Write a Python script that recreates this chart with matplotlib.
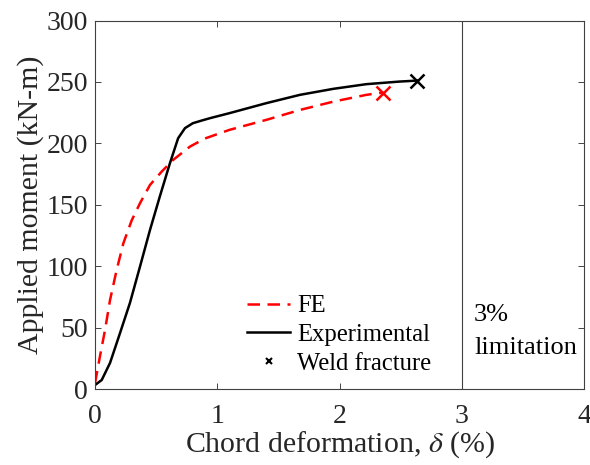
import numpy as np
import matplotlib
matplotlib.use('Agg')
import matplotlib.pyplot as plt
from matplotlib.lines import Line2D

plt.rcParams['font.family'] = ['Liberation Serif', 'DejaVu Serif']
plt.rcParams['mathtext.fontset'] = 'stix'

# FE model curve
fe_x = [0.0, 0.04, 0.082, 0.123, 0.177, 0.232, 0.30, 0.368, 0.45, 0.545, 0.64,
        0.777, 0.90, 1.10, 1.40, 1.676, 1.95, 2.22, 2.357]
fe_y = [4.7, 26.4, 48.1, 72.5, 96.9, 118.7, 137.3, 151.3, 166.2, 177.0, 186.6,
        197.4, 204.0, 211.0, 219.1, 227.2, 234.0, 239.5, 241.4]

# Experimental curve
exp_x = [0.0, 0.055, 0.123, 0.204, 0.286, 0.368, 0.45, 0.53, 0.613, 0.68, 0.736,
         0.80, 0.87, 0.94, 1.10, 1.40, 1.676, 1.95, 2.22, 2.49, 2.635]
exp_y = [3.3, 7.4, 21.3, 45.4, 70.2, 99.7, 129.6, 156.7, 183.9, 204.2, 212.4,
         216.4, 218.5, 220.5, 224.6, 232.7, 239.5, 244.4, 248.2, 250.3, 251.1]

# weld fracture points
fe_frac = (2.357, 241.4)
exp_frac = (2.635, 251.1)

limit_x = 3.0

fig = plt.figure(figsize=(5.9, 4.65), dpi=100)
ax = fig.add_axes([0.161, 0.1632, 0.829, 0.7927])

dash = (0, (5, 3))
ax.plot(fe_x, fe_y, color='red', linestyle=dash, linewidth=1.8,
        dash_joinstyle='round', dash_capstyle='butt')
ax.plot(exp_x, exp_y, color='black', linewidth=1.8, solid_joinstyle='round')
ax.plot(*fe_frac, marker='x', color='red', markersize=10, mew=1.8, linestyle='none')
ax.plot(*exp_frac, marker='x', color='black', markersize=10, mew=1.8, linestyle='none')

ax.axvline(limit_x, color='#404040', linewidth=0.8)
ax.text(3.1, 55.5, '3%', fontsize=19, ha='left', va='baseline')
ax.text(3.1, 28.5, 'limitation', fontsize=19, ha='left', va='baseline')

ax.set_xlim(0, 4)
ax.set_ylim(0, 300)
ax.set_xticks([0, 1, 2, 3, 4])
ax.set_yticks(np.arange(0, 301, 50))
ax.tick_params(direction='in', top=True, right=True, length=4, width=0.6,
               labelsize=20, colors='#262626')
ax.tick_params(axis='x', pad=11)
ax.tick_params(axis='y', pad=5)
for s in ax.spines.values():
    s.set_color('#404040')
    s.set_linewidth(0.8)

ax.set_xlabel(r'Chord deformation, $\delta$ (%)', fontsize=21.5, color='#262626', labelpad=0)
ax.set_ylabel('Applied moment (kN-m)', fontsize=21.5, color='#262626', labelpad=2)

handles = [
    Line2D([], [], color='red', linestyle=dash, linewidth=1.8),
    Line2D([], [], color='black', linewidth=1.8),
    Line2D([], [], color='black', marker='x', markersize=4, mew=1.5, linestyle='none'),
]
labels = ['FE', 'Experimental', 'Weld fracture']
ax.legend(handles, labels, loc='center left', bbox_to_anchor=(0.311, 0.147),
          frameon=False, fontsize=17.7, handlelength=1.75, handletextpad=0.28,
          labelspacing=0.27, borderpad=0, borderaxespad=0)

plt.savefig('out.png', dpi=100)
plt.close()
